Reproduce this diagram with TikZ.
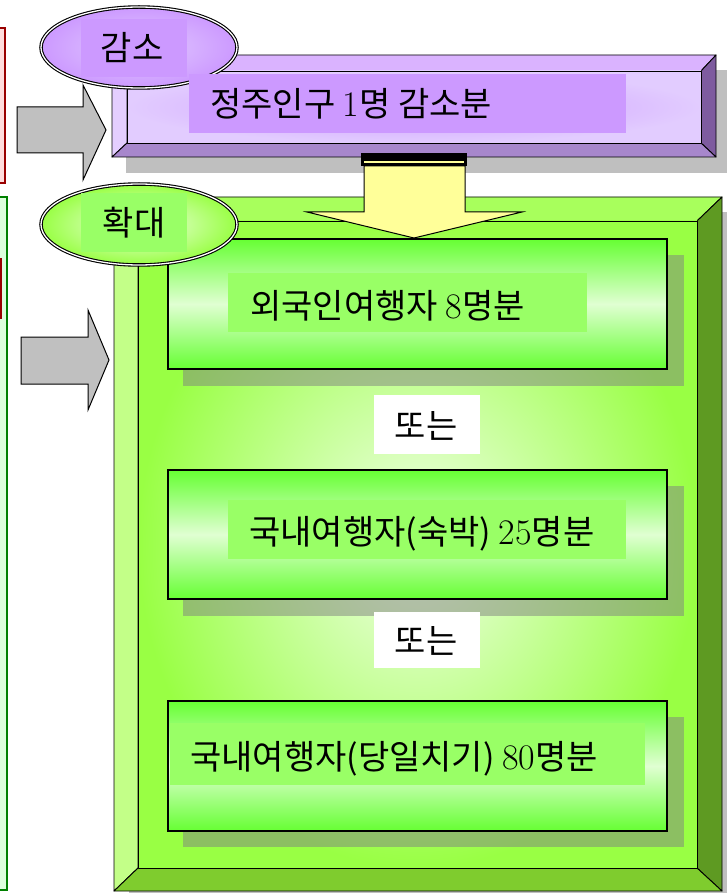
\documentclass[tikz,border=0pt]{standalone}
\usepackage{fontspec}
\newfontfamily\krfont{Noto Sans CJK KR}
\newcommand\numtxt[1]{{\rmfamily\fontsize{36}{36}\selectfont #1}}
\definecolor{pface}{HTML}{CC99FF}
\definecolor{plight}{HTML}{E2CCFF}
\definecolor{ptop}{HTML}{DAB3FF}
\definecolor{pleft}{HTML}{E4CEFF}
\definecolor{pright}{HTML}{7E5B9F}
\definecolor{pbot}{HTML}{A787CC}
\definecolor{gface}{HTML}{99FF44}
\definecolor{glight}{HTML}{F2FFEA}
\definecolor{gtop}{HTML}{A8FF5C}
\definecolor{gleft}{HTML}{C3FF88}
\definecolor{gright}{HTML}{5E9A22}
\definecolor{gbot}{HTML}{7FCC2E}
\definecolor{gbox}{HTML}{66FF33}
\definecolor{gboxlight}{HTML}{E0FFD2}
\definecolor{ghl}{HTML}{99FF66}
\definecolor{yarrow}{HTML}{FFFF99}
\definecolor{garrow}{HTML}{C0C0C0}
\definecolor{redline}{HTML}{990000}
\definecolor{redfill}{HTML}{FFDDDD}
\definecolor{grnline}{HTML}{008000}
\definecolor{grnfill}{HTML}{DDFFDD}
\begin{document}
\begin{tikzpicture}[x=1pt,y=-1pt,
  bevel/.style={draw=black, line width=0.9pt, line join=round},
  shadowbox/.style={fill=gray, fill opacity=0.5},
  txt/.style={inner sep=0pt, anchor=base west, font=\krfont\fontsize{34}{40}\selectfont},
  ctxt/.style={inner sep=0pt, anchor=base, font=\krfont\fontsize{34}{40}\selectfont},
  grayarrow/.style={fill=garrow, draw=black, line width=1pt, line join=miter},
  tag/.style={draw=black, line width=1.1pt, double=white, double distance=1.3pt},
  gbx/.style={draw=black, line width=1.6pt, top color=gbox, bottom color=gbox, middle color=gboxlight, shading=axis}]
\useasboundingbox (0,0) rectangle (727,893);
\fill[white] (0,0) rectangle (727,893);
% left partial boxes
\draw[redline, line width=2pt, fill=redfill] (-10,28) rectangle (5,183);
\draw[grnline, line width=2pt, fill=grnfill] (-10,197) rectangle (7,890);
\draw[redline, line width=2pt] (0.5,258) -- (0.5,319);
% gray arrows
\draw[grayarrow] (17,107) -- (83,107) -- (83,85) -- (106,130) -- (83,180) -- (83,153) -- (17,153) -- cycle;
\draw[grayarrow] (21,337) -- (88,337) -- (88,310) -- (109,360) -- (88,410) -- (88,384) -- (21,384) -- cycle;
% purple box
\fill[shadowbox] (126,70) rectangle (740,173);
\draw[bevel, fill=ptop] (112,55) -- (716,55) -- (701,71) -- (127,71) -- cycle;
\draw[bevel, fill=pleft] (112,55) -- (127,71) -- (127,143) -- (112,157) -- cycle;
\draw[bevel, fill=pright] (716,55) -- (716,157) -- (701,143) -- (701,71) -- cycle;
\draw[bevel, fill=pbot] (112,157) -- (716,157) -- (701,143) -- (127,143) -- cycle;
\shade[inner color=pface, outer color=plight] (127,71) rectangle (701,143);
\draw[bevel] (127,71) rectangle (701,143);
% green frame
\fill[shadowbox] (129,212) rectangle (740,906);
\draw[bevel, fill=gtop] (114,197) -- (722,197) -- (697,221) -- (138,221) -- cycle;
\draw[bevel, fill=gleft] (114,197) -- (138,221) -- (138,868) -- (114,891) -- cycle;
\draw[bevel, fill=gright] (722,197) -- (722,891) -- (697,868) -- (697,221) -- cycle;
\draw[bevel, fill=gbot] (114,891) -- (722,891) -- (697,868) -- (138,868) -- cycle;
\shade[inner color=glight, outer color=gface] (138,221) rectangle (697,868);
\draw[bevel] (138,221) rectangle (697,868);
% inner boxes
\fill[shadowbox] (183,255) rectangle (684,386);
\draw[gbx] (168,239) rectangle (667,369);
\fill[ghl] (228,273) rectangle (587,332);
\node[txt] (t1) at (250,318) {외국인여행자 \numtxt{8}명분};
\fill[shadowbox] (183,486) rectangle (684,616);
\draw[gbx] (168,470) rectangle (667,599);
\fill[ghl] (228,500) rectangle (626,559);
\node[txt] (t2) at (249,544) {국내여행자(숙박) \numtxt{25}명분};
\fill[shadowbox] (183,717) rectangle (684,847);
\draw[gbx] (168,701) rectangle (667,831);
\fill[ghl] (169.5,723) rectangle (645,785);
\node[txt] (t3) at (190,769) {국내여행자(당일치기) \numtxt{80}명분};
% 또는
\fill[white] (374,395) rectangle (480,454);
\node[ctxt] (or1) at (426,438) {또는};
\fill[white] (374,612) rectangle (480,668);
\node[ctxt] (or2) at (426,653) {또는};
% yellow arrow
\draw[fill=yarrow, draw=black, line width=1pt, line join=miter] (364,166) -- (465,166) -- (465,212) -- (522,212) -- (414,238) -- (307,212) -- (364,212) -- cycle;
\fill[black] (361,153) rectangle (467,166);
\draw[yarrow, line width=1.5pt] (364,162) -- (464,162);
% tags
\draw[tag, inner color=plight, outer color=pface] (139,47.5) ellipse [x radius=98, y radius=40.5];
\fill[pface] (81,19) rectangle (187,77);
\node[ctxt] (dec) at (132,61) {감소};
\fill[pface] (189,74) rectangle (626,133);
\node[txt] (t0) at (210,117) {정주인구 \numtxt{1}명 감소분};
\draw[tag, inner color=glight, outer color=gface] (139,224.5) ellipse [x radius=98, y radius=40.5];
\fill[ghl] (81,193) rectangle (187,252);
\node[ctxt] (inc) at (134,236) {확대};
\end{tikzpicture}
\end{document}
